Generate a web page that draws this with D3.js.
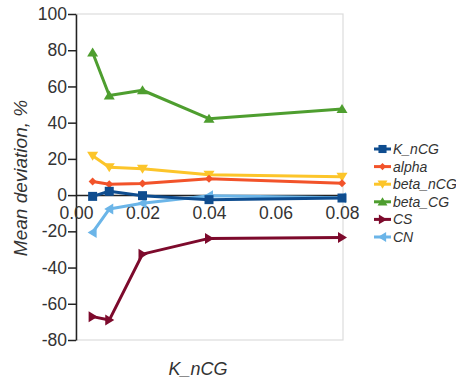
<!DOCTYPE html>
<html>
<head>
<meta charset="utf-8">
<script src="https://cdn.jsdelivr.net/npm/d3@7"></script>
<style>
  body { margin: 0; background: #fff; }
  text { font-family: "Liberation Sans", Arial, sans-serif; }
</style>
</head>
<body>
<script>
var w = 456;
var h = 383;

// data
var kValues = [0.005, 0.01, 0.02, 0.04, 0.08];
var seriesNames = ["K_nCG", "alpha", "beta_nCG", "beta_CG", "CS", "CN"];
var K_nCG = [-0.7, 2.1, -0.3, -2.5, -1.6];
var alpha = [7.5, 6.0, 6.4, 9.0, 6.5];
var beta_nCG = [21.7, 15.4, 14.5, 11.3, 10.2];
var beta_CG = [78.7, 55.0, 57.9, 42.2, 47.5];
var CS = [-67.1, -69.0, -32.6, -23.9, -23.4];
var CN = [-20.6, -7.7, -4.5, -0.3, -1.4];
var xTicks = [0, 0.02, 0.04, 0.06, 0.08];
var yTicks = [-80, -60, -40, -20, 0, 20, 40, 60, 80, 100];

var seriesData = [K_nCG, alpha, beta_nCG, beta_CG, CS, CN];
var colors = ["#0f4d8f", "#f2532a", "#fcc52a", "#4e9e2f", "#7d0a2c", "#6bb5e8"];

var svg = d3.select("body").append("svg")
  .attr("width", w)
  .attr("height", h);

var x = d3.scaleLinear().domain([0, 0.08]).range([76, 342]);
var y = d3.scaleLinear().domain([-80, 100]).range([340, 14]);

// plot box (light grey)
svg.append("rect")
  .attr("x", x(0)).attr("y", y(100))
  .attr("width", x(0.08) - x(0) + 1).attr("height", y(-80) - y(100))
  .attr("fill", "none").attr("stroke", "#dcdcdc").attr("stroke-width", 1.2);

// y axis
var yAxis = d3.axisLeft(y).tickValues(yTicks).tickSize(8).tickSizeOuter(0)
  .tickFormat(function (d) { return String(d); });
var gy = svg.append("g").attr("transform", "translate(" + x(0) + ",0)").call(yAxis);
gy.select(".domain").attr("stroke", "#222").attr("stroke-width", 1.5);
gy.selectAll(".tick line").attr("stroke", "#222").attr("stroke-width", 1.5);
gy.selectAll(".tick text")
  .attr("font-size", 17.5).attr("fill", "#333").attr("x", -9)
  .style("font-family", "'Liberation Sans', Arial, sans-serif");

// x axis on the zero line
var xAxis = d3.axisBottom(x).tickValues(xTicks).tickSize(0).tickSizeOuter(0)
  .tickFormat(function (d) { return d.toFixed(2); });
var gx = svg.append("g").attr("transform", "translate(0," + y(0) + ")").call(xAxis);
gx.select(".domain").attr("stroke", "#222").attr("stroke-width", 1.5);
gx.selectAll(".tick text")
  .attr("font-size", 17.5).attr("fill", "#333").attr("y", 11)
  .style("font-family", "'Liberation Sans', Arial, sans-serif");

// markers
function markerPath(i, s) {
  if (i == 0) return "M" + (-s) + "," + (-s) + "h" + 2 * s + "v" + 2 * s + "h" + (-2 * s) + "Z";
  if (i == 1) return "M0," + (-s) + "L" + s + ",0L0," + s + "L" + (-s) + ",0Z";
  if (i == 2) return "M" + (-s * 1.1) + "," + (-s * 0.8) + "L" + (s * 1.1) + "," + (-s * 0.8) + "L0," + s + "Z";
  if (i == 3) return "M" + (-s * 1.1) + "," + (s * 0.8) + "L" + (s * 1.1) + "," + (s * 0.8) + "L0," + (-s) + "Z";
  if (i == 4) return "M" + (-s * 0.8) + "," + (-s * 1.1) + "L" + (-s * 0.8) + "," + (s * 1.1) + "L" + s + ",0Z";
  return "M" + (s * 0.8) + "," + (-s * 1.1) + "L" + (s * 0.8) + "," + (s * 1.1) + "L" + (-s) + ",0Z";
}
var markerSize = [4.5, 4, 5, 5, 5, 5];

var line = d3.line()
  .x(function (d) { return x(d[0]); })
  .y(function (d) { return y(d[1]); });

// draw order: CN under K_nCG
var order = [5, 4, 3, 2, 1, 0];
order.forEach(function (i) {
  var pts = kValues.map(function (k, j) { return [k, seriesData[i][j]]; });
  var g = svg.append("g");
  g.append("path")
    .attr("d", line(pts))
    .attr("fill", "none")
    .attr("stroke", colors[i])
    .attr("stroke-width", 3)
    .attr("stroke-linejoin", "round");
  g.selectAll("path.m")
    .data(pts)
    .enter().append("path")
    .attr("class", "m")
    .attr("transform", function (d) { return "translate(" + x(d[0]) + "," + y(d[1]) + ")"; })
    .attr("d", markerPath(i, markerSize[i]))
    .attr("fill", colors[i]);
});

// axis titles
svg.append("text")
  .attr("transform", "translate(27,178) rotate(-90)")
  .attr("text-anchor", "middle")
  .attr("font-size", 19).attr("font-style", "italic").attr("fill", "#333")
  .text("Mean deviation, %");

svg.append("text")
  .attr("x", 198).attr("y", 375)
  .attr("text-anchor", "middle")
  .attr("font-size", 18).attr("font-style", "italic").attr("fill", "#333")
  .text("K_nCG");

// legend
var legend = svg.append("g");
seriesNames.forEach(function (name, i) {
  var ly = 149 + i * 17.6;
  legend.append("line")
    .attr("x1", 374).attr("x2", 391).attr("y1", ly).attr("y2", ly)
    .attr("stroke", colors[i]).attr("stroke-width", 3);
  legend.append("path")
    .attr("transform", "translate(382.5," + ly + ")")
    .attr("d", markerPath(i, markerSize[i] * 0.9))
    .attr("fill", colors[i]);
  legend.append("text")
    .attr("x", 393).attr("y", ly + 5)
    .attr("font-size", 14).attr("font-style", "italic").attr("fill", "#333")
    .text(name);
});
</script>
</body>
</html>
